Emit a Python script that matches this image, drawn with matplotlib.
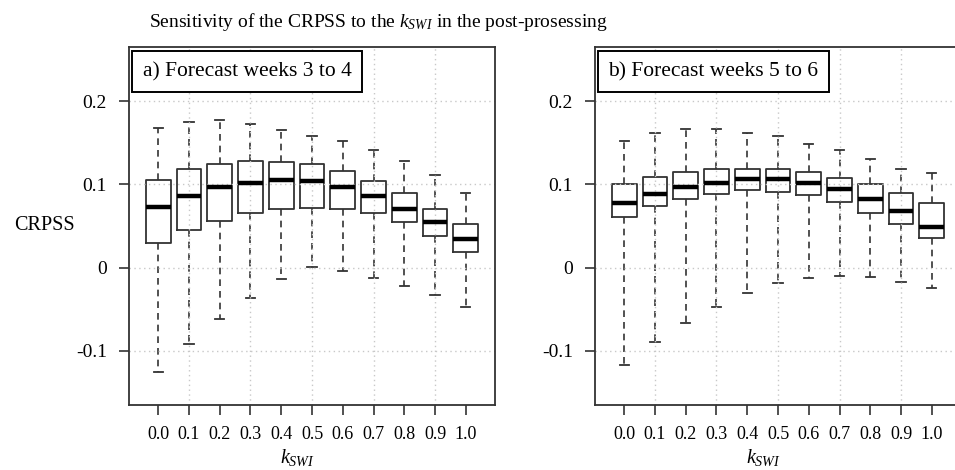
"""
CRPSS sensitivity to k_SWI: two boxplot panels (forecast weeks 3-4 and 5-6).
Box statistics read off the published figure.
"""
import matplotlib
matplotlib.use("Agg")
import matplotlib.pyplot as plt

plt.rcParams['font.family'] = 'serif'
plt.rcParams['font.serif'] = ['Liberation Serif', 'DejaVu Serif']
plt.rcParams['mathtext.fontset'] = 'custom'
plt.rcParams['mathtext.rm'] = 'Liberation Serif'
plt.rcParams['mathtext.it'] = 'Liberation Serif:italic'

k_labels = ['0.0', '0.1', '0.2', '0.3', '0.4', '0.5', '0.6', '0.7', '0.8', '0.9', '1.0']

# weeks 3 to 4
a_whishi = [0.168, 0.175, 0.177, 0.173, 0.165, 0.158, 0.152, 0.141, 0.128, 0.111, 0.090]
a_q3 = [0.105, 0.118, 0.124, 0.128, 0.127, 0.124, 0.116, 0.104, 0.090, 0.071, 0.052]
a_med = [0.073, 0.086, 0.097, 0.102, 0.105, 0.104, 0.097, 0.086, 0.071, 0.055, 0.034]
a_q1 = [0.030, 0.045, 0.056, 0.066, 0.071, 0.072, 0.071, 0.066, 0.055, 0.038, 0.019]
a_whislo = [-0.125, -0.092, -0.062, -0.036, -0.014, 0.001, -0.004, -0.012, -0.022, -0.033, -0.047]

# weeks 5 to 6
b_whishi = [0.152, 0.162, 0.166, 0.166, 0.162, 0.158, 0.149, 0.141, 0.130, 0.119, 0.114]
b_q3 = [0.100, 0.109, 0.115, 0.118, 0.119, 0.118, 0.115, 0.108, 0.100, 0.090, 0.078]
b_med = [0.078, 0.089, 0.097, 0.102, 0.106, 0.106, 0.102, 0.094, 0.083, 0.068, 0.049]
b_q1 = [0.061, 0.074, 0.082, 0.089, 0.093, 0.091, 0.087, 0.079, 0.066, 0.053, 0.036]
b_whislo = [-0.117, -0.089, -0.066, -0.047, -0.030, -0.019, -0.013, -0.010, -0.011, -0.017, -0.025]

y_ticks = [-0.1, 0, 0.1, 0.2]
y_ticklabels = ['-0.1', '0', '0.1', '0.2']

EDGE = '#333333'


def make_stats(whislo, q1, med, q3, whishi):
    return [dict(whislo=lo, q1=a, med=m, q3=b, whishi=hi, fliers=[])
            for lo, a, m, b, hi in zip(whislo, q1, med, q3, whishi)]


def draw_panel(ax, stats, label):
    pos = list(range(1, len(stats) + 1))
    ax.bxp(stats, positions=pos, widths=0.8, showfliers=False, capwidths=0.3,
           boxprops=dict(color=EDGE, linewidth=1.3, zorder=1),
           whiskerprops=dict(color=EDGE, linewidth=1.2, linestyle=(0, (4, 3)), zorder=1),
           capprops=dict(color=EDGE, linewidth=1.3, zorder=1),
           medianprops=dict(color='black', linewidth=3.2, solid_capstyle='butt', zorder=2))
    ax.set_xlim(0.05, 11.95)
    ax.set_ylim(-0.165, 0.265)
    ax.set_xticks(pos)
    ax.set_xticklabels(k_labels, fontsize=13)
    ax.set_yticks(y_ticks)
    ax.set_yticklabels(y_ticklabels, fontsize=14)
    ax.tick_params(direction='out', length=7, width=1.2, color=EDGE, pad=8)
    ax.tick_params(axis='y', pad=9)
    for s in ax.spines.values():
        s.set_color(EDGE)
        s.set_linewidth(1.3)

    # dotted grid on every other box, like R's grid()
    ax.set_axisbelow('line')
    for x in [2, 4, 6, 8, 10]:
        ax.axvline(x, color='#c8c8c8', linestyle=(0, (1, 2.5)), linewidth=1.0, zorder=1.5)
    for y in y_ticks:
        ax.axhline(y, color='#c8c8c8', linestyle=(0, (1, 2.5)), linewidth=1.0, zorder=1.5)

    ax.set_xlabel(r'$k_{SWI}$', fontsize=14.5, va='center')
    ax.xaxis.set_label_coords(0.46, -0.148)
    ax.text(0.037, 0.958, label, transform=ax.transAxes, fontsize=15.5, va='top', ha='left',
            bbox=dict(boxstyle='square,pad=0.5', fc='white', ec='black', lw=1.4), zorder=5)


fig = plt.figure(figsize=(9.55, 4.7), dpi=100)
ax1 = fig.add_axes([129 / 955, 65 / 470, 366 / 955, 358 / 470])
ax2 = fig.add_axes([595 / 955, 65 / 470, 366 / 955, 358 / 470])

draw_panel(ax1, make_stats(a_whislo, a_q1, a_med, a_q3, a_whishi), 'a) Forecast weeks 3 to 4')
draw_panel(ax2, make_stats(b_whislo, b_q1, b_med, b_q3, b_whishi), 'b) Forecast weeks 5 to 6')

ax1.set_ylabel('CRPSS', fontsize=14.5, rotation=0, ha='center', va='center')
ax1.yaxis.set_label_coords(-0.23, 0.5)

fig.text(378 / 955, 1 - 22 / 470,
         r'Sensitivity of the CRPSS to the $k_{SWI}$ in the post-prosessing',
         fontsize=14, ha='center', va='center')

fig.savefig('out.png', dpi=100)
